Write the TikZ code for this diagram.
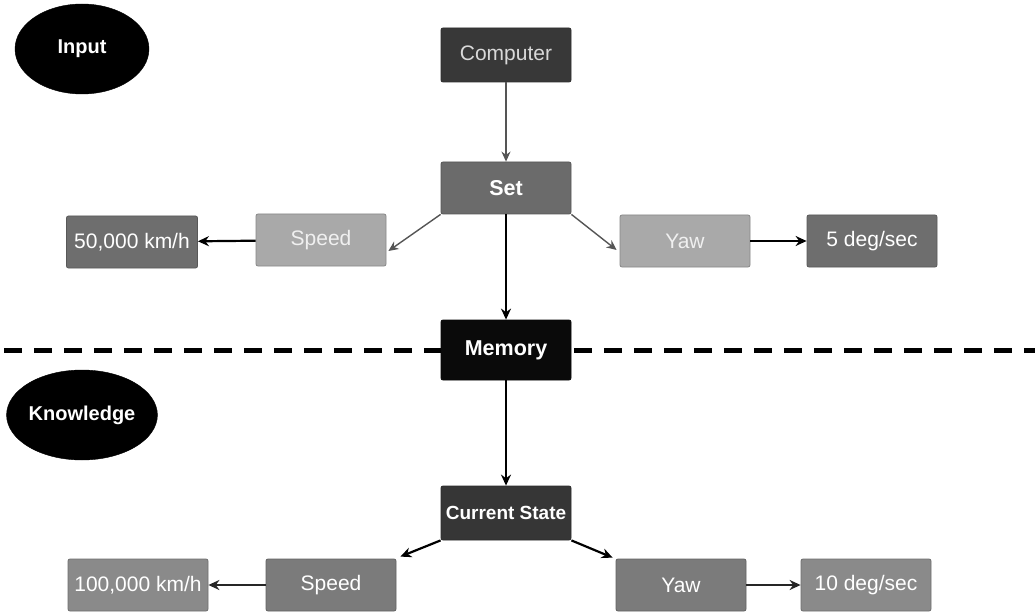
\documentclass[tikz,border=0pt]{standalone}
\usepackage{fontspec}
\setmainfont{Liberation Sans}
\usetikzlibrary{arrows.meta,shapes.geometric}
\definecolor{cComp}{HTML}{383838}
\definecolor{cSet}{HTML}{6B6B6B}
\definecolor{cLight}{HTML}{A9A9A9}
\definecolor{cVal}{HTML}{6E6E6E}
\definecolor{cMem}{HTML}{0A0A0A}
\definecolor{cCur}{HTML}{363636}
\definecolor{cSpB}{HTML}{7B7B7B}
\definecolor{cValB}{HTML}{8A8A8A}
\definecolor{cGrayArrow}{HTML}{555555}
\tikzset{
  box/.style={rectangle, rounded corners=2pt, minimum width=130pt, minimum height=52pt,
    inner sep=0pt, fill=#1, draw=#1!80!black, line width=0.8pt, text=white,
    font=\fontsize{21}{23}\selectfont},
  bbox/.style={box=#1, font=\fontsize{21.5}{23}\selectfont\bfseries},
  oval/.style={ellipse, fill=black, draw=black, minimum width=134pt, minimum height=90pt,
    inner sep=0pt, text=white, font=\fontsize{20}{22}\selectfont\bfseries},
  grayarrow/.style={draw=cGrayArrow, line width=1.4pt, -{Stealth[length=10pt,width=9pt]}},
  blackarrow/.style={draw=black, line width=2.2pt, -{Stealth[length=11pt,width=10pt]}},
}
\begin{document}
\begin{tikzpicture}[x=1pt,y=-1pt]
\useasboundingbox[fill=white] (0,0) rectangle (1035,612);
% dashed divider
\coordinate (dl) at (0,350);
\coordinate (dr) at (1035,350);
\draw[line width=5pt, dash pattern=on 18pt off 12pt, dash phase=-4pt] (dl) -- (dr);
% ellipses
\node[oval] (input) at (82,49) {Input};
\node[oval] (know) at (82,415) {Knowledge};
% upper part
\node[box=cComp, minimum height=54pt, text=white!85!black] (comp) at (506,55) {Computer};
\node[bbox=cSet] (set) at (506,188) {Set};
\node[box=cLight, text=white!94!black] (speed) at (321,240) {Speed};
\node[box=cVal, minimum width=131pt] (v50) at (132,242) {50,000 km/h};
\node[box=cLight, text=white!94!black] (yaw) at (685,241) {Yaw};
\node[box=cVal] (v5) at (872,241) {5 deg/sec};
\node[bbox=cMem, minimum height=60pt] (mem) at (506,350) {Memory};
% lower part
\node[box=cCur, minimum height=54pt, font=\fontsize{19}{21}\selectfont\bfseries] (cur) at (506,513) {Current State};
\node[box=cSpB] (speedb) at (331,585) {Speed};
\node[box=cValB, minimum width=140pt] (v100) at (138,585) {100,000 km/h};
\node[box=cSpB] (yawb) at (681,585) {Yaw};
\node[box=cValB] (v10) at (866,585) {10 deg/sec};
% connectors
\draw[grayarrow] (comp) -- (set);
\draw[grayarrow] (set.south west) -- ([xshift=2pt,yshift=-11pt]speed.east);
\draw[grayarrow] (set.south east) -- ([xshift=-3pt,yshift=-9pt]yaw.west);
\draw[blackarrow] (speed) -- (v50);
\draw[blackarrow] (yaw) -- (v5);
\draw[blackarrow] (set) -- (mem);
\draw[blackarrow] (mem) -- (cur);
\draw[blackarrow] (cur.south west) -- ([xshift=4pt,yshift=2pt]speedb.north east);
\draw[blackarrow] (cur.south east) -- ([xshift=-3pt,yshift=1pt]yawb.north west);
\draw[blackarrow, draw=black!85] (speedb) -- (v100);
\draw[blackarrow, draw=black!85] (yawb) -- (v10);
\end{tikzpicture}
\end{document}
